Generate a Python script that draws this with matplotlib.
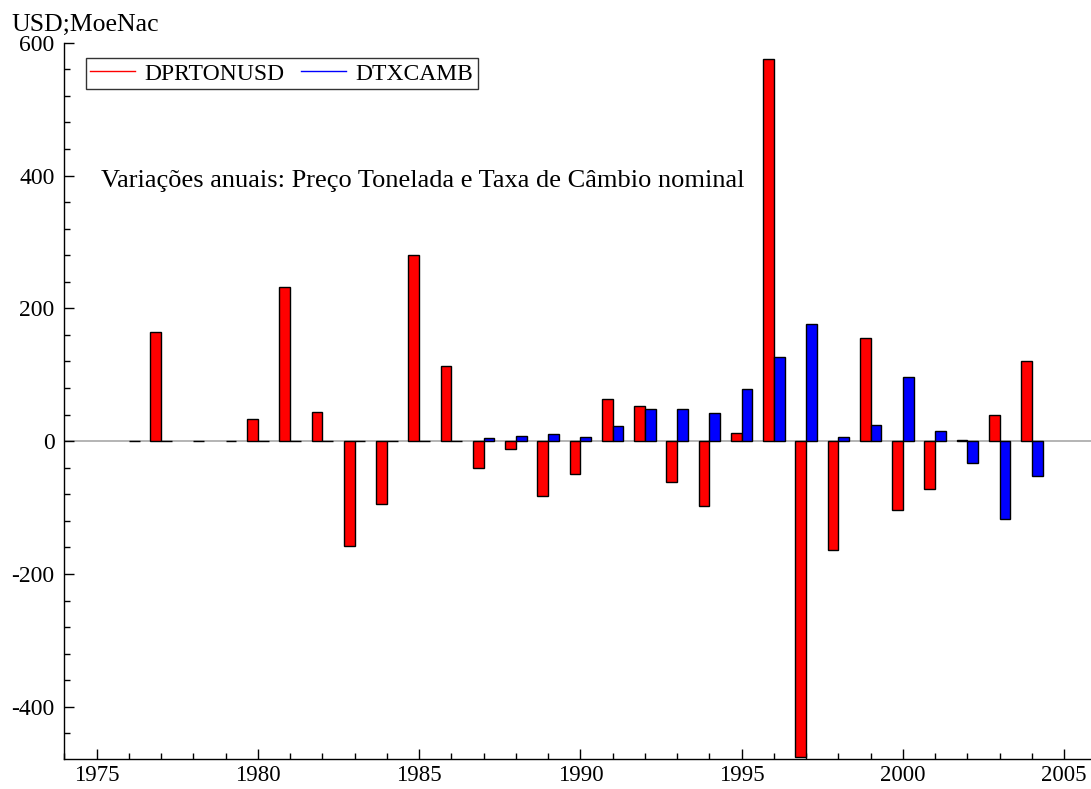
import numpy as np
import matplotlib
matplotlib.use('Agg')
import matplotlib.pyplot as plt
from matplotlib.ticker import MultipleLocator

plt.rcParams['font.family'] = ['Liberation Serif', 'DejaVu Serif']
plt.rcParams['axes.unicode_minus'] = False

# annual changes
years = list(range(1976, 2005))
dprtonusd = [np.nan, 164, np.nan, np.nan, 33, 232, 44, -158, -94, 280, 113,
             -40, -12, -82, -50, 63, 53, -61, -97, 12, 575, -475, -164,
             155, -103, -72, 1.5, 40, 120]
dtxcamb = [0, 0, 0, 0, 0, 0, 0, 0, 1, 1, 0.5,
           5, 8, 11, 6, 23, 49, 48, 43, 79, 127, 177, 6,
           25, 96, 16, -33, -117, -53]
labels = ['DPRTONUSD', 'DTXCAMB']
note = 'Variações anuais: Preço Tonelada e Taxa de Câmbio nominal'

W, H = 1091, 789
fig = plt.figure(figsize=(W / 100, H / 100), dpi=100)
ax = fig.add_axes([64.3 / W, (H - 759.3) / H, (W - 64.3) / W, (759.3 - 42.7) / H])

x = np.array(years, dtype=float)
bw = 1 / 3
ax.axhline(0, color='#a8a8a8', lw=1.2, zorder=0.5)
ax.bar(x - bw, dprtonusd, width=bw, align='edge', color='#ff0000',
       edgecolor='black', linewidth=1.0, zorder=2)
ax.bar(x, dtxcamb, width=bw, align='edge', color='#0000ff',
       edgecolor='black', linewidth=1.0, zorder=2)

ax.set_xlim(1974.0, 2005.83)
ax.set_ylim(-479, 600)
ax.xaxis.set_major_locator(MultipleLocator(5))
ax.xaxis.set_minor_locator(MultipleLocator(1))
ax.yaxis.set_major_locator(MultipleLocator(200))
ax.yaxis.set_minor_locator(MultipleLocator(40))
ax.tick_params(which='both', direction='in', labelsize=17, width=1)
ax.tick_params(which='major', length=7)
ax.tick_params(which='minor', length=4.5)
ax.tick_params(axis='y', pad=7)
ax.tick_params(axis='x', pad=4, labelsize=16.5)
for s in ['top', 'right']:
    ax.spines[s].set_visible(False)
for s in ['left', 'bottom']:
    ax.spines[s].set_linewidth(1)

# legend with line handles
h1, = ax.plot([], [], color='#ff0000', lw=1)
h2, = ax.plot([], [], color='#0000ff', lw=1)
leg = fig.legend([h1, h2], labels, loc='upper left', ncol=2,
                 bbox_to_anchor=(85.7 / W, 1 - 58.3 / H), fontsize=17,
                 frameon=True, fancybox=False, edgecolor='black',
                 handlelength=1.9, handletextpad=0.4, columnspacing=0.7,
                 borderpad=0.2, borderaxespad=0)
leg.get_frame().set_linewidth(1)

ax.text(1975.13, 382.7, note, fontsize=19, va='baseline', ha='left')
fig.text(11.7 / W, 1 - 30.7 / H, 'USD;MoeNac', fontsize=18.5, va='baseline', ha='left')

fig.savefig('out.png', dpi=100)
